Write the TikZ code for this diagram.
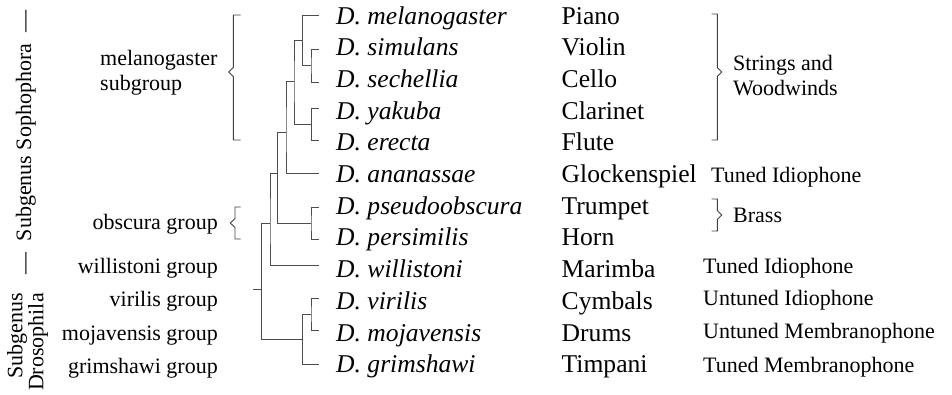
\documentclass[tikz,border=0pt]{standalone}
\usepackage{fontspec}
\setmainfont{Liberation Serif}
\begin{document}
\begin{tikzpicture}[x=1pt,y=-1pt,
  tree/.style={draw=black!70,line width=1pt},
  brace/.style={draw=black!75,line width=0.9pt},
  sp/.style={inner sep=0pt,anchor=base west,font=\fontsize{25.6}{30}\selectfont\itshape},
  ins/.style={inner sep=0pt,anchor=base west,font=\fontsize{25.6}{30}\selectfont},
  grp/.style={inner sep=0pt,anchor=base east,font=\fontsize{22}{25}\selectfont},
  cat/.style={inner sep=0pt,anchor=base west,font=\fontsize{22}{25}\selectfont}]
\useasboundingbox (0,0) rectangle (952,394);

% leaves
\coordinate (l1) at (319,15);
\coordinate (l2) at (319,49);
\coordinate (l3) at (319,82);
\coordinate (l4) at (319,108);
\coordinate (l5) at (319,140);
\coordinate (l6) at (319,173);
\coordinate (l7) at (319,207);
\coordinate (l8) at (319,239);
\coordinate (l9) at (319,265);
\coordinate (l10) at (319,298);
\coordinate (l11) at (319,330);
\coordinate (l12) at (319,364);
% junctions
\coordinate (j23) at (311,65.5);
\coordinate (j123) at (302.7,40);
\coordinate (j45) at (311.5,124);
\coordinate (j15) at (294,81);
\coordinate (j16) at (286,132);
\coordinate (j78) at (311,223);
\coordinate (j18) at (277.7,173);
\coordinate (j19) at (270,223);
\coordinate (j1011) at (311,314);
\coordinate (j1012) at (302.7,339);
\coordinate (root) at (261.7,289);
\coordinate (rs) at (253,289);

\draw[tree] (l2) -| (j23) |- (l3);
\draw[tree] (l1) -| (j123) |- (j23);
\draw[tree] (l4) -| (j45) |- (l5);
\draw[tree] (j123) -| (j15) |- (j45);
\draw[tree] (j15) -| (j16) |- (l6);
\draw[tree] (l7) -| (j78) |- (l8);
\draw[tree] (j16) -| (j18) |- (j78);
\draw[tree] (j18) -| (j19) |- (l9);
\draw[tree] (l10) -| (j1011) |- (l11);
\draw[tree] (j1011) -| (j1012) |- (l12);
\draw[tree] (j19) -| (root) |- (j1012);
\draw[tree] (rs) -- (root);

% species
\node[sp] (s1) at (336,24) {D. melanogaster};
\node[sp] (s2) at (336,55.7) {D. simulans};
\node[sp] (s3) at (336,87.4) {D. sechellia};
\node[sp] (s4) at (336,119.1) {D. yakuba};
\node[sp] (s5) at (336,150.8) {D. erecta};
\node[sp] (s6) at (336,182.5) {D. ananassae};
\node[sp] (s7) at (336,214.2) {D. pseudoobscura};
\node[sp] (s8) at (336,245.9) {D. persimilis};
\node[sp] (s9) at (336,277.6) {D. willistoni};
\node[sp] (s10) at (336,309.3) {D. virilis};
\node[sp] (s11) at (336,341) {D. mojavensis};
\node[sp] (s12) at (336,372.7) {D. grimshawi};

% instruments
\node[ins] (i1) at (561.5,24) {Piano};
\node[ins] (i2) at (561.5,55.7) {Violin};
\node[ins] (i3) at (561.5,87.4) {Cello};
\node[ins] (i4) at (561.5,119.1) {Clarinet};
\node[ins] (i5) at (561.5,150.8) {Flute};
\node[ins] (i6) at (561.5,182.5) {Glockenspiel};
\node[ins] (i7) at (561.5,214.2) {Trumpet};
\node[ins] (i8) at (561.5,245.9) {Horn};
\node[ins] (i9) at (561.5,277.6) {Marimba};
\node[ins] (i10) at (561.5,309.3) {Cymbals};
\node[ins] (i11) at (561.5,341) {Drums};
\node[ins] (i12) at (561.5,372.7) {Timpani};

% categories
\node[inner sep=0pt,anchor=west,align=left,font=\fontsize{22}{25}\selectfont] (cSW) at (733,76) {Strings and\\Woodwinds};
\node[cat] (c6) at (711,182) {Tuned Idiophone};
\node[cat] (cB) at (733,222) {Brass};
\node[cat] (c9) at (703,273.5) {Tuned Idiophone};
\node[cat] (c10) at (703,305.5) {Untuned Idiophone};
\node[cat] (c11) at (703,338.5) {Untuned Membranophone};
\node[cat] (c12) at (703,372) {Tuned Membranophone};

% groups
\node[inner sep=0pt,anchor=west,align=left,font=\fontsize{22}{25}\selectfont] (gm) at (100,72.4) {melanogaster\\subgroup};
\node[grp] (go) at (218,229) {obscura group};
\node[grp] (gw) at (218,273) {willistoni group};
\node[grp] (gv) at (218,306) {virilis group};
\node[grp] (gj) at (218,340) {mojavensis group};
\node[grp] (gg) at (218,373) {grimshawi group};

% subgenera
\node[inner sep=0pt,rotate=90,anchor=base,font=\fontsize{22}{25}\selectfont] (sS) at (31,142.5) {—\hspace{11pt}Subgenus Sophophora\hspace{11pt}—};
\node[inner sep=0pt,rotate=90,anchor=north east,align=right,font=\fontsize{22}{18}\selectfont] (sD) at (7,293) {Subgenus\\Drosophila};

% braces
\coordinate (bm1) at (240.5,15);
\coordinate (bm2) at (240.5,140);
\draw[brace] (bm1) -- (233.3,15) -- (233.3,67.5) -- (228.8,72) -- (233.3,76.5) -- (233.3,140) -- (bm2);
\coordinate (bo1) at (240.5,207);
\coordinate (bo2) at (240.5,239);
\draw[brace] (bo1) -- (235,207) -- (235,218.5) -- (230.3,223) -- (235,227.5) -- (235,239) -- (bo2);
\coordinate (br1) at (711.5,14);
\coordinate (br2) at (711.5,140);
\draw[brace] (br1) -- (717.3,14) -- (717.3,67.5) -- (721.8,72) -- (717.3,76.5) -- (717.3,140) -- (br2);
\coordinate (bb1) at (711.5,199);
\coordinate (bb2) at (711.5,231);
\draw[brace] (bb1) -- (717.3,199) -- (717.3,210.5) -- (721.8,215) -- (717.3,219.5) -- (717.3,231) -- (bb2);
\end{tikzpicture}
\end{document}
